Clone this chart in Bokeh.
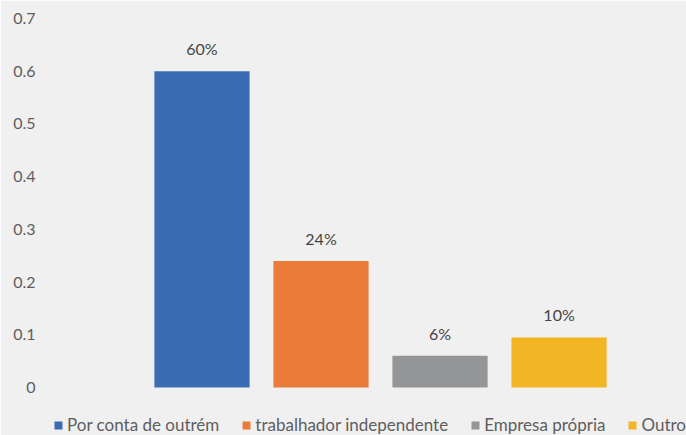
from bokeh.plotting import figure
from bokeh.models import Range1d, Legend, LegendItem, ColumnDataSource, FixedTicker
from bokeh.core.properties import value
from bokeh.embed import file_html
from bokeh.resources import INLINE

categories = ["Por conta de outrém", "trabalhador independente", "Empresa própria", "Outro"]
values = [0.60, 0.24, 0.06, 0.095]
labels = ["60%", "24%", "6%", "10%"]
colors = ["#3a6cb4", "#eb7b38", "#939596", "#f2b524"]
y_ticks = [0, 0.1, 0.2, 0.3, 0.4, 0.5, 0.6, 0.7]

FONT = "Lato"
BG = "#f0f0f0"

xs = list(range(len(categories)))
src = ColumnDataSource(dict(x=xs, top=values, label=labels))

p = figure(width=686, height=435, output_backend="svg", toolbar_location=None,
           x_range=Range1d(-1.315, 4.071), y_range=Range1d(-0.0911, 0.7),
           min_border_left=45, min_border_right=0, min_border_top=18, min_border_bottom=0)
p.background_fill_color = BG
p.border_fill_color = BG
p.outline_line_color = None
p.grid.visible = False
p.xaxis.visible = False

ya = p.yaxis[0]
ya.ticker = FixedTicker(ticks=y_ticks)
ya.axis_line_color = None
ya.major_tick_line_color = None
ya.minor_tick_line_color = None
ya.major_tick_out = 0
ya.major_label_standoff = 10
ya.major_label_text_font = FONT
ya.major_label_text_font_size = "16px"
ya.major_label_text_color = "#5e5e5e"

renderers = []
for i in xs:
    r = p.vbar(x=[xs[i]], top=[values[i]], bottom=0, width=0.8, fill_color=colors[i], line_color=None)
    renderers.append(r)

p.text(x="x", y="top", text="label", source=src, text_align="center", text_baseline="bottom",
       y_offset=-13, text_font=value(FONT), text_font_size="16px", text_color="#454545")

legend = Legend(items=[LegendItem(label=categories[i], renderers=[renderers[i]]) for i in xs],
                orientation="horizontal", location=(8, 0),
                glyph_width=10, glyph_height=10, label_standoff=4, spacing=22,
                padding=0, margin=0, border_line_color=None, background_fill_alpha=0,
                label_text_font=FONT, label_text_font_size="17px", label_text_color="#5e5e5e",
                label_height=16)
p.add_layout(legend, "center")

open("out.html", "w").write(file_html(p, INLINE))
